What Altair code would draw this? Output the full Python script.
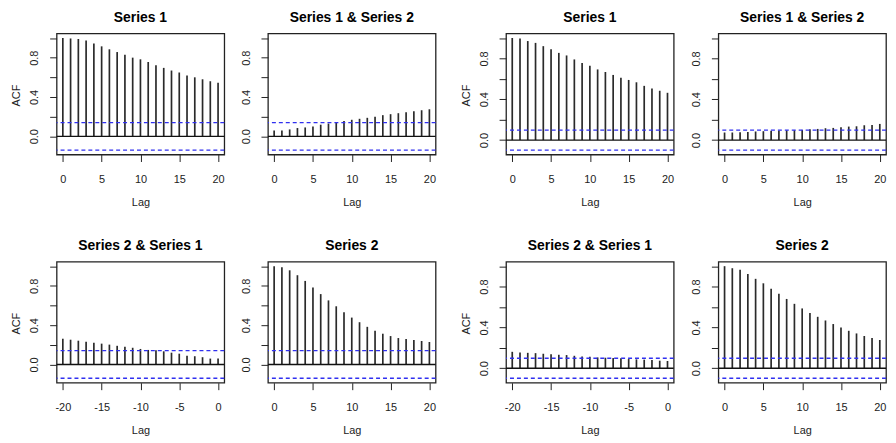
import altair as alt
import pandas as pd

FONT = "Liberation Sans"

lags_pos = list(range(0, 21))
lags_neg = list(range(-20, 1))
ticks_pos = [0, 5, 10, 15, 20]
ticks_neg = [-20, -15, -10, -5, 0]
yticks = [0.0, 0.2, 0.4, 0.6, 0.8, 1.0]

titles = ["Series 1", "Series 1 & Series 2", "Series 2 & Series 1", "Series 2"]

# left group (smaller sample -> wider bands)
clim_left = 0.14
L_s1 = [1.00, 0.995, 0.99, 0.975, 0.945, 0.915, 0.885, 0.857, 0.83, 0.80, 0.783,
        0.756, 0.723, 0.696, 0.669, 0.649, 0.618, 0.60, 0.58, 0.56, 0.545]
L_s12 = [0.06, 0.06, 0.07, 0.084, 0.09, 0.10, 0.118, 0.13, 0.145, 0.155, 0.168,
         0.178, 0.188, 0.198, 0.215, 0.225, 0.235, 0.245, 0.255, 0.265, 0.275]
L_s21 = [0.262, 0.252, 0.242, 0.232, 0.222, 0.212, 0.202, 0.19, 0.18, 0.17, 0.158,
         0.148, 0.145, 0.134, 0.12, 0.11, 0.09, 0.084, 0.074, 0.06, 0.06]
L_s2 = [1.00, 0.99, 0.958, 0.908, 0.85, 0.783, 0.716, 0.652, 0.592, 0.531, 0.477,
        0.43, 0.383, 0.343, 0.313, 0.289, 0.269, 0.259, 0.249, 0.239, 0.229]

# right group
clim_right = 0.098
R_s1 = [1.00, 0.995, 0.97, 0.952, 0.92, 0.889, 0.854, 0.829, 0.79, 0.756, 0.727,
        0.692, 0.667, 0.638, 0.61, 0.589, 0.566, 0.531, 0.505, 0.483, 0.463]
R_s12 = [0.074, 0.074, 0.076, 0.08, 0.084, 0.087, 0.09, 0.093, 0.096, 0.097, 0.10,
         0.106, 0.109, 0.116, 0.119, 0.125, 0.132, 0.135, 0.145, 0.148, 0.158]
R_s21 = [0.161, 0.154, 0.151, 0.148, 0.142, 0.138, 0.132, 0.129, 0.122, 0.116, 0.113,
         0.106, 0.103, 0.10, 0.097, 0.09, 0.087, 0.084, 0.08, 0.074, 0.071]
R_s2 = [1.00, 0.98, 0.966, 0.924, 0.876, 0.832, 0.78, 0.73, 0.679, 0.631, 0.586,
        0.542, 0.504, 0.468, 0.433, 0.398, 0.367, 0.341, 0.316, 0.296, 0.277]

W, H = 169, 122


def panel(lags, vals, clim, title, ytitle, xticks):
    df = pd.DataFrame({"lag": lags, "acf": vals, "zero": [0.0] * len(lags)})
    lo = min(-clim, min(vals))
    hi = 1.0
    span = hi - lo
    ydom = [lo - 0.04 * span, hi + 0.04 * span]
    xdom = [min(lags) - 0.8, max(lags) + 0.8]
    yscale = alt.Scale(domain=ydom, nice=False, zero=False)
    xscale = alt.Scale(domain=xdom, nice=False, zero=False)
    ytitle_txt = ytitle if ytitle else ""
    yaxis = alt.Axis(
        values=yticks, grid=False, domain=False, tickSize=7, tickColor="#222",
        tickWidth=1,
        labelExpr="indexof(['0.0','0.4','0.8'], format(datum.value,'.1f')) >= 0 ? format(datum.value,'.1f') : ''",
        labelAngle=270, labelAlign="center", labelBaseline="alphabetic",
        labelPadding=12, labelFontSize=11, labelFont=FONT, labelColor="#222",
        labelOverlap=False, labelFlush=False,
        title=ytitle_txt, titleFont=FONT, titleFontSize=11,
        titleFontWeight="normal", titleColor="#222", titleAngle=270,
        titleX=-37, titleY=62, titleAlign="center", titleBaseline="alphabetic",
    )
    xaxis = alt.Axis(
        values=xticks, grid=False, domain=False, tickSize=7, tickColor="#222",
        tickWidth=1, labelExpr="'' + datum.value", labelBaseline="alphabetic",
        labelPadding=21, labelFontSize=11, labelFont=FONT, labelColor="#222",
        labelOverlap=False, labelFlush=False,
        title="Lag", titleFont=FONT, titleFontSize=11, titleFontWeight="normal",
        titleColor="#222", titleX=W / 2, titleY=51, titleAlign="center",
        titleBaseline="alphabetic",
    )
    stems = alt.Chart(df).mark_rule(color="#2a2a2a", strokeWidth=1.7).encode(
        x=alt.X("lag:Q", scale=xscale, axis=xaxis, title="Lag"),
        y=alt.Y("zero:Q", scale=yscale, axis=yaxis, title=ytitle_txt),
        y2="acf:Q",
    )
    zero = alt.Chart(pd.DataFrame({"v": [0.0]})).mark_rule(
        color="#111", strokeWidth=1.3
    ).encode(y=alt.Y("v:Q", scale=yscale, axis=yaxis, title=ytitle_txt))
    bands = alt.Chart(pd.DataFrame({"v": [clim, -clim]})).mark_rule(
        color="#3030f0", strokeWidth=1.3, strokeDash=[4, 3]
    ).encode(y=alt.Y("v:Q", scale=yscale, axis=yaxis, title=ytitle_txt))
    head = alt.Chart(pd.DataFrame({"t": [title]})).mark_text(
        font=FONT, fontSize=14, fontWeight="bold", color="black",
        align="center", baseline="alphabetic",
    ).encode(x=alt.value(W / 2), y=alt.value(-12), text="t:N")
    return alt.layer(stems, zero, bands, head).properties(width=W, height=H)


def spacer(w):
    return alt.Chart(pd.DataFrame({"a": [0]})).mark_point(opacity=0).encode(
        x=alt.value(0), y=alt.value(0)
    ).properties(width=w, height=H, view=alt.ViewBackground(strokeOpacity=0))


p1 = panel(lags_pos, L_s1, clim_left, titles[0], "ACF", ticks_pos)
p2 = panel(lags_pos, L_s12, clim_left, titles[1], None, ticks_pos)
p5 = panel(lags_neg, L_s21, clim_left, titles[2], "ACF", ticks_neg)
p6 = panel(lags_pos, L_s2, clim_left, titles[3], None, ticks_pos)
p3 = panel(lags_pos, R_s1, clim_right, titles[0], "ACF", ticks_pos)
p4 = panel(lags_pos, R_s12, clim_right, titles[1], None, ticks_pos)
p7 = panel(lags_neg, R_s21, clim_right, titles[2], "ACF", ticks_neg)
p8 = panel(lags_pos, R_s2, clim_right, titles[3], None, ticks_pos)

chart = alt.concat(
    p1, spacer(44), p2, spacer(71), p3, spacer(45), p4,
    p5, spacer(44), p6, spacer(71), p7, spacer(45), p8,
    columns=7, spacing={"row": 108, "column": 0}, bounds="flush", align="each",
).properties(
    padding={"left": 2, "top": 0, "right": 0, "bottom": 0},
    background="white",
).configure_view(
    stroke="#222", strokeWidth=1.3
)

chart.save("out.html", embed_options={"renderer": "svg", "actions": False})
